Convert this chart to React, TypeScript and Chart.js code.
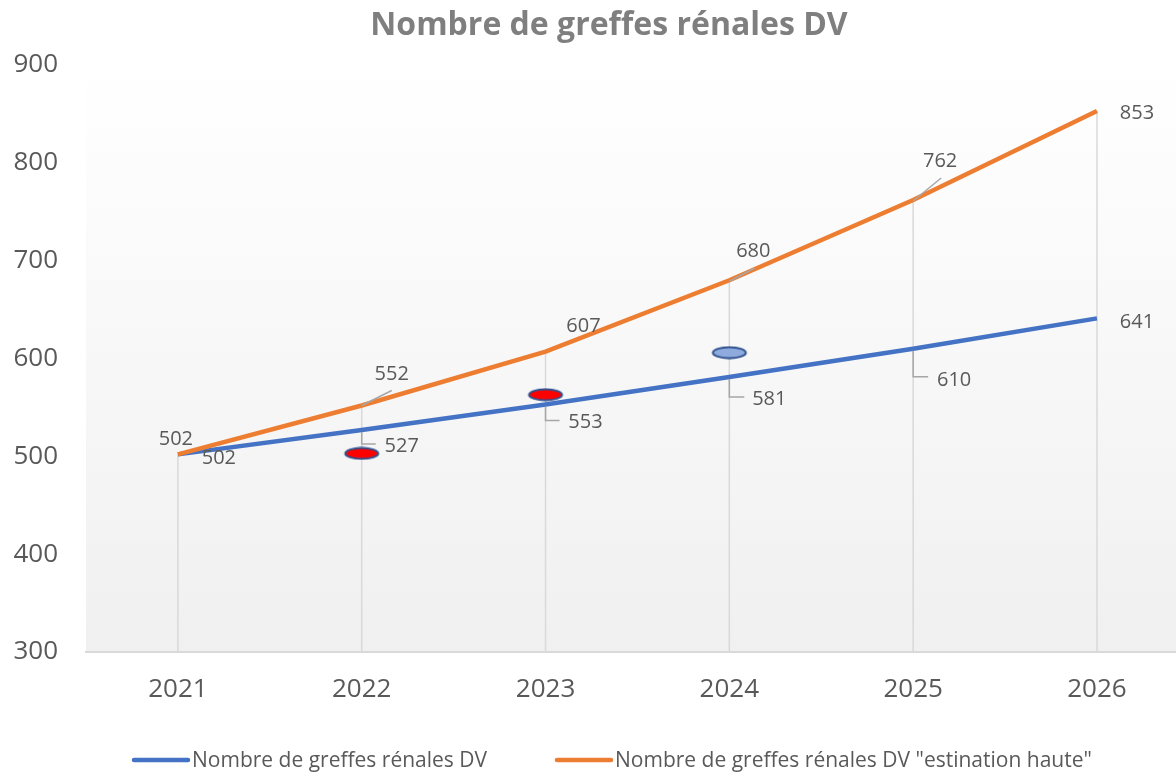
import React, { useEffect, useRef } from "react";
import { Chart, registerables } from "chart.js";

Chart.register(...registerables);

// ---------- data ----------
const titleText = "Nombre de greffes rénales DV";
const seriesNames = [
  "Nombre de greffes rénales DV",
  'Nombre de greffes rénales DV "estination haute"',
];
const years = [2021, 2022, 2023, 2024, 2025, 2026];
const dvValues = [502, 527, 553, 581, 610, 641];
const dvHighValues = [502, 552, 607, 680, 762, 853];
const redMarkerYears = [2022, 2023];
const redMarkerValues = [503, 563];
const blueMarkerYears = [2024];
const blueMarkerValues = [606];
const yMin = 300;
const yMax = 900;
const yStep = 100;

// ---------- styles ----------
const FONT = "'Open Sans', sans-serif";
const BLUE = "#4472C4";
const ORANGE = "#ED7D31";
const TEXT = "#595959";
const LEADER = "#A6A6A6";

// label offsets (px, relative to the data point) and leader polylines
const blueLabelOffsets = [[41, 3], [40, 15], [40, 17], [40, 21], [41, 30], [40, 3]];
const orangeLabelOffsets = [[-2, -16], [30, -32], [38, -27], [24, -30], [27, -40], [40, 1]];
const blueLeaders: (number[][] | null)[] = [
  null,
  [[0, 2], [0, 14], [14, 14]],
  [[0, 2], [0, 16], [14, 16]],
  [[0, 2], [0, 20], [15, 20]],
  [[0, 2], [0, 28], [15, 28]],
  null,
];
const orangeLeaders: (number[][] | null)[] = [
  null,
  [[0, 0], [30, -15]],
  null,
  [[0, 1], [25, -12]],
  [[0, 1], [28, -22]],
  null,
];

function ellipseMarker(fill: string): HTMLCanvasElement {
  const c = document.createElement("canvas");
  c.width = 38;
  c.height = 14;
  const x = c.getContext("2d")!;
  x.beginPath();
  x.ellipse(19, 7, 16.5, 5.5, 0, 0, Math.PI * 2);
  x.fillStyle = fill;
  x.fill();
  x.lineWidth = 2;
  x.strokeStyle = "#2F528F";
  x.stroke();
  return c;
}

const plotBackground = {
  id: "plotBackground",
  beforeDraw(chart: any) {
    const { ctx, chartArea: a } = chart;
    const g = ctx.createLinearGradient(0, a.top, 0, a.bottom);
    g.addColorStop(0, "#ffffff");
    g.addColorStop(1, "#f0f0f0");
    ctx.save();
    ctx.fillStyle = g;
    ctx.fillRect(a.left, a.top, a.right - a.left, a.bottom - a.top);
    ctx.restore();
  },
};

const chartTitle = {
  id: "chartTitle",
  afterDraw(chart: any) {
    const { ctx } = chart;
    ctx.save();
    ctx.fillStyle = "#7F7F7F";
    ctx.font = `bold 32px ${FONT}`;
    ctx.textAlign = "center";
    ctx.textBaseline = "alphabetic";
    ctx.fillText(titleText, 609, 35);
    ctx.restore();
  },
};

const dropLines = {
  id: "dropLines",
  beforeDatasetsDraw(chart: any) {
    const { ctx, chartArea: a, scales } = chart;
    ctx.save();
    ctx.strokeStyle = "#D9D9D9";
    ctx.lineWidth = 1.5;
    years.forEach((yr, i) => {
      const top = Math.max(dvValues[i], dvHighValues[i]);
      const x = scales.x.getPixelForValue(yr);
      const y = scales.y.getPixelForValue(top);
      ctx.beginPath();
      ctx.moveTo(x, y);
      ctx.lineTo(x, a.bottom);
      ctx.stroke();
    });
    ctx.restore();
  },
};

const dataLabels = {
  id: "dataLabels",
  afterDatasetsDraw(chart: any) {
    const { ctx, scales } = chart;
    ctx.save();
    const draw = (vals: number[], offs: number[][], leaders: (number[][] | null)[]) => {
      vals.forEach((v, i) => {
        const px = scales.x.getPixelForValue(years[i]);
        const py = scales.y.getPixelForValue(v);
        const ld = leaders[i];
        if (ld) {
          ctx.strokeStyle = LEADER;
          ctx.lineWidth = 1.5;
          ctx.beginPath();
          ld.forEach((p, k) => {
            if (k === 0) ctx.moveTo(px + p[0], py + p[1]);
            else ctx.lineTo(px + p[0], py + p[1]);
          });
          ctx.stroke();
        }
        ctx.fillStyle = TEXT;
        ctx.font = `20px ${FONT}`;
        ctx.textAlign = "center";
        ctx.textBaseline = "alphabetic";
        ctx.fillText(String(v), px + offs[i][0], py + offs[i][1] + 7);
      });
    };
    draw(dvValues, blueLabelOffsets, blueLeaders);
    draw(dvHighValues, orangeLabelOffsets, orangeLeaders);
    ctx.restore();
  },
};

const customLegend = {
  id: "customLegend",
  afterDraw(chart: any) {
    const { ctx } = chart;
    const items = [
      { color: BLUE, text: seriesNames[0], x: 134 },
      { color: ORANGE, text: seriesNames[1], x: 557 },
    ];
    ctx.save();
    ctx.font = `21px ${FONT}`;
    ctx.textAlign = "left";
    ctx.textBaseline = "alphabetic";
    items.forEach((it) => {
      ctx.strokeStyle = it.color;
      ctx.lineWidth = 4.5;
      ctx.lineCap = "round";
      ctx.beginPath();
      ctx.moveTo(it.x, 760);
      ctx.lineTo(it.x + 54, 760);
      ctx.stroke();
      ctx.fillStyle = TEXT;
      ctx.fillText(it.text, it.x + 58, 767);
    });
    ctx.restore();
  },
};

export default function App() {
  const ref = useRef<HTMLCanvasElement>(null);
  useEffect(() => {
    document.body.style.margin = "0";
    const chart = new Chart(ref.current!, {
      type: "line",
      data: {
        datasets: [
          {
            label: seriesNames[0],
            data: years.map((x, i) => ({ x, y: dvValues[i] })),
            borderColor: BLUE,
            backgroundColor: BLUE,
            borderWidth: 4.5,
            pointRadius: 0,
            tension: 0,
            order: 2,
          },
          {
            label: seriesNames[1],
            data: years.map((x, i) => ({ x, y: dvHighValues[i] })),
            borderColor: ORANGE,
            backgroundColor: ORANGE,
            borderWidth: 4.5,
            pointRadius: 0,
            tension: 0,
            order: 1,
          },
          {
            label: "markers-red",
            data: redMarkerYears.map((x, i) => ({ x, y: redMarkerValues[i] })),
            showLine: false,
            pointStyle: ellipseMarker("#FF0000") as any,
            pointRadius: 8,
            order: 0,
          },
          {
            label: "markers-blue",
            data: blueMarkerYears.map((x, i) => ({ x, y: blueMarkerValues[i] })),
            showLine: false,
            pointStyle: ellipseMarker("#8FAADC") as any,
            pointRadius: 8,
            order: 0,
          },
        ],
      },
      options: {
        responsive: false,
        animation: false,
        layout: { autoPadding: false, padding: { left: 0, right: 0, top: 65, bottom: 62 } },
        plugins: {
          legend: { display: false },
          tooltip: { enabled: false },
          title: { display: false },
        },
        scales: {
          x: {
            type: "linear",
            min: 2020.5,
            max: 2026.43,
            grid: { display: false, drawTicks: false },
            border: { display: true, color: "#D9D9D9", width: 2 },
            afterBuildTicks: (scale: any) => {
              scale.ticks = years.map((v) => ({ value: v }));
            },
            afterFit: (scale: any) => {
              scale.height = 60;
              scale.paddingLeft = 0;
              scale.paddingRight = 0;
            },
            ticks: {
              color: TEXT,
              font: { family: FONT, size: 26 },
              padding: 22,
              maxRotation: 0,
              callback: (v: any) => String(v),
            },
          },
          y: {
            min: yMin,
            max: yMax,
            grid: { display: false, drawTicks: false },
            border: { display: false },
            afterFit: (scale: any) => {
              scale.width = 86;
            },
            ticks: {
              stepSize: yStep,
              color: TEXT,
              font: { family: FONT, size: 26 },
              padding: 28,
              callback: (v: any) => String(v),
            },
          },
        },
      },
      plugins: [plotBackground, dropLines, dataLabels, chartTitle, customLegend],
    });
    return () => chart.destroy();
  }, []);
  return (
    <div style={{ width: 1176, height: 774 }}>
      <canvas ref={ref} width={1176} height={774} />
    </div>
  );
}
